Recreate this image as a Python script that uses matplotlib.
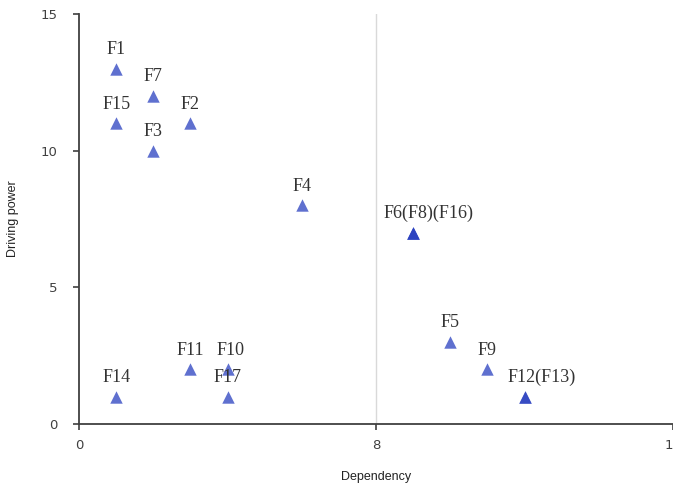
import matplotlib

matplotlib.use("Agg")
import matplotlib.pyplot as plt

# factor coordinates (dependency, driving power)
factors = ["F1", "F2", "F3", "F4", "F5", "F6", "F7", "F8", "F9",
           "F10", "F11", "F12", "F13", "F14", "F15", "F16", "F17"]
dependency = [1, 3, 2, 6, 10, 9, 2, 9, 11, 4, 3, 12, 12, 1, 1, 9, 4]
driving = [13, 11, 10, 8, 3, 7, 12, 7, 2, 2, 2, 1, 1, 1, 11, 7, 1]

# text shown above each distinct position
label_text = ["F1", "F2", "F3", "F4", "F5", "F6(F8)(F16)", "F7", "F9",
              "F10", "F11", "F12(F13)", "F14", "F15", "F17"]
label_x = [1, 3, 2, 6, 10, 9, 2, 11, 4, 3, 12, 1, 1, 4]
label_y = [13, 11, 10, 8, 3, 7, 12, 2, 2, 2, 1, 1, 11, 1]

x_ticks = [0, 8, 16]
y_ticks = [0, 5, 10, 15]

AX_COL = "#404040"

fig = plt.figure(figsize=(6.73, 4.86), dpi=100)
ax = fig.add_axes([0.1174, 0.1276, 0.8826, 0.8436])

ax.axvline(8, color="#d9d9d9", lw=1.0, zorder=1)
ax.scatter(dependency, driving, marker="^", s=80, color="#2a40c0",
           alpha=0.75, linewidths=0, zorder=3)

# the long combined labels sit a little to the right of their marker
shift = {"F6(F8)(F16)": 11, "F12(F13)": 12, "F10": 2}
for t, x, y in zip(label_text, label_x, label_y):
    ax.annotate(t, (x, y), xytext=(shift.get(t, 0), 10.5),
                textcoords="offset points", ha="center", va="baseline",
                fontsize=13, family="Liberation Serif", color="#333333",
                zorder=4)

ax.set_xlim(0, 16)
ax.set_ylim(0, 15)
ax.set_xticks(x_ticks)
ax.set_yticks(y_ticks)
ax.tick_params(direction="out", length=4.5, width=1.2, color=AX_COL,
               labelcolor=AX_COL, labelsize=9.5)
ax.tick_params(axis="x", pad=6)
ax.tick_params(axis="y", pad=11)
for sp in ["top", "right"]:
    ax.spines[sp].set_visible(False)
for sp in ["left", "bottom"]:
    ax.spines[sp].set_color(AX_COL)
    ax.spines[sp].set_linewidth(1.3)

ax.set_xlabel("Dependency", fontsize=9, color="#222222",
              family="Liberation Sans", labelpad=14)
ax.set_ylabel("Driving power", fontsize=9, color="#222222",
              family="Liberation Sans")
ax.yaxis.set_label_coords(-0.101, 0.5)

fig.savefig("out.png", dpi=100)
